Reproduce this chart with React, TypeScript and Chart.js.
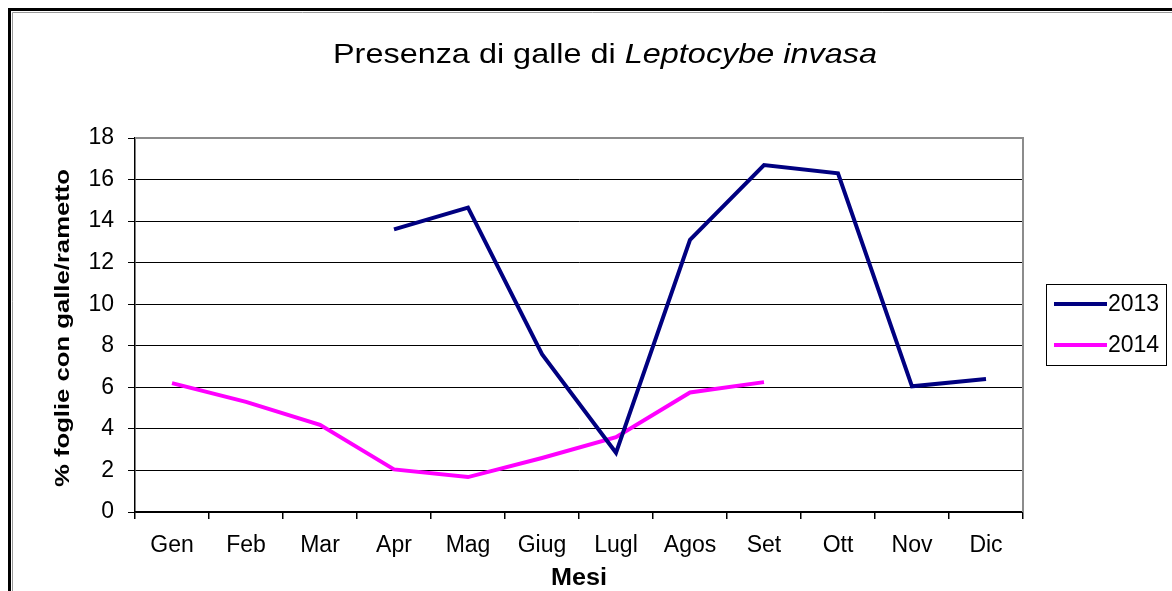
import { useEffect, useRef } from "react";
import { Chart, registerables } from "chart.js";
Chart.register(...registerables);

const months = ["Gen", "Feb", "Mar", "Apr", "Mag", "Giug", "Lugl", "Agos", "Set", "Ott", "Nov", "Dic"];
const values2013: (number | null)[] = [null, null, null, 13.6, 14.65, 7.6, 2.85, 13.1, 16.7, 16.3, 6.05, 6.4];
const values2014: (number | null)[] = [6.2, 5.3, 4.2, 2.05, 1.68, 2.6, 3.6, 5.75, 6.25, null, null, null];
const seriesNames = ["2013", "2014"];
const seriesColors = ["#000080", "#FF00FF"];
const yMin = 0;
const yMax = 18;
const yStep = 2;
const titleNormal = "Presenza di galle di ";
const titleItalic = "Leptocybe invasa";
const yTitle = "% foglie con galle/rametto";
const xTitle = "Mesi";

const FONT = "'Liberation Sans', Arial, sans-serif";

function fitText(ctx: CanvasRenderingContext2D, text: string, cx: number, cy: number, font: string, targetW: number, angle = 0) {
  ctx.save();
  ctx.font = font;
  const w = ctx.measureText(text).width;
  ctx.translate(cx, cy);
  ctx.rotate(angle);
  ctx.scale(targetW / w, 1);
  ctx.textAlign = "center";
  ctx.textBaseline = "middle";
  ctx.fillStyle = "#000";
  ctx.fillText(text, 0, 0);
  ctx.restore();
}

const decorPlugin = {
  id: "decor",
  beforeDatasetsDraw(chart: any) {
    const ctx: CanvasRenderingContext2D = chart.ctx;
    const a = chart.chartArea;
    ctx.save();
    ctx.strokeStyle = "#8c8c8c";
    ctx.lineWidth = 2;
    ctx.beginPath();
    ctx.moveTo(a.left, a.top);
    ctx.lineTo(a.right, a.top);
    ctx.lineTo(a.right, a.bottom);
    ctx.stroke();
    ctx.restore();
  },
  afterDraw(chart: any) {
    const ctx: CanvasRenderingContext2D = chart.ctx;
    const W = chart.width;
    const H = chart.height;
    const a = chart.chartArea;
    ctx.save();
    // outer frame
    ctx.strokeStyle = "#000";
    ctx.lineWidth = 3;
    ctx.beginPath();
    ctx.moveTo(9.5, H);
    ctx.lineTo(9.5, 9.5);
    ctx.lineTo(W, 9.5);
    ctx.stroke();
    ctx.strokeStyle = "#9a9a9a";
    ctx.lineWidth = 1;
    ctx.beginPath();
    ctx.moveTo(12.5, H);
    ctx.lineTo(12.5, 12.5);
    ctx.lineTo(W, 12.5);
    ctx.stroke();

    // title
    const tf = 28;
    ctx.font = `${tf}px ${FONT}`;
    const w1 = ctx.measureText(titleNormal).width;
    ctx.font = `italic ${tf}px ${FONT}`;
    const w2 = ctx.measureText(titleItalic).width;
    const target = 544;
    const sx = target / (w1 + w2);
    ctx.save();
    ctx.translate(605 - target / 2, 55);
    ctx.scale(sx, 1);
    ctx.fillStyle = "#000";
    ctx.textBaseline = "middle";
    ctx.textAlign = "left";
    ctx.font = `${tf}px ${FONT}`;
    ctx.fillText(titleNormal, 0, 0);
    ctx.font = `italic ${tf}px ${FONT}`;
    ctx.fillText(titleItalic, w1, 0);
    ctx.restore();

    // axis titles
    fitText(ctx, yTitle, 63, (a.top + a.bottom) / 2 + 3, `bold 21px ${FONT}`, 318, -Math.PI / 2);
    fitText(ctx, xTitle, (a.left + a.right) / 2, 579, `bold 23px ${FONT}`, 56);

    // legend
    ctx.strokeStyle = "#000";
    ctx.lineWidth = 1;
    ctx.strokeRect(1046.5, 284.5, 120, 81);
    chart.data.datasets.forEach((ds: any, i: number) => {
      const ly = 304 + i * 41;
      ctx.strokeStyle = ds.borderColor;
      ctx.lineWidth = 4;
      ctx.beginPath();
      ctx.moveTo(1054, ly);
      ctx.lineTo(1107, ly);
      ctx.stroke();
      ctx.fillStyle = "#000";
      ctx.font = `23px ${FONT}`;
      ctx.textAlign = "left";
      ctx.textBaseline = "middle";
      ctx.fillText(ds.label, 1108, ly + 1);
    });
    ctx.restore();
  },
};

export default function App() {
  const ref = useRef<HTMLCanvasElement | null>(null);
  useEffect(() => {
    document.body.style.margin = "0";
    const canvas = ref.current!;
    const chart = new Chart(canvas, {
      type: "line",
      data: {
        labels: months,
        datasets: [
          { label: seriesNames[0], data: values2013, borderColor: seriesColors[0], backgroundColor: seriesColors[0], borderWidth: 4, pointRadius: 0, spanGaps: false, tension: 0 },
          { label: seriesNames[1], data: values2014, borderColor: seriesColors[1], backgroundColor: seriesColors[1], borderWidth: 4, pointRadius: 0, spanGaps: false, tension: 0 },
        ],
      },
      options: {
        responsive: false,
        animation: false,
        events: [],
        layout: { padding: { left: 0, top: 138, right: 149, bottom: 0 } },
        plugins: { legend: { display: false }, title: { display: false }, tooltip: { enabled: false } },
        scales: {
          x: {
            type: "category",
            offset: true,
            grid: { offset: true, drawOnChartArea: false, drawTicks: true, tickLength: 7, color: "#000", tickColor: "#000", lineWidth: 1.5 },
            border: { color: "#000", width: 1.5 },
            ticks: { color: "#000", font: { family: FONT, size: 23 }, padding: 13, maxRotation: 0, autoSkip: false },
            afterFit: (s: any) => { s.height = 79; },
          },
          y: {
            min: yMin,
            max: yMax,
            grid: {
              color: (c: any) => (c.tick && c.tick.value === yMax ? "rgba(0,0,0,0)" : "#000"),
              tickColor: "#000",
              lineWidth: 1,
              tickLength: 7,
            },
            border: { color: "#000", width: 1.5 },
            ticks: { stepSize: yStep, color: "#000", font: { family: FONT, size: 23 }, padding: 14 },
            afterFit: (s: any) => { s.width = 135; },
          },
        },
      },
      plugins: [decorPlugin],
    } as any);
    return () => chart.destroy();
  }, []);
  return (
    <div style={{ position: "absolute", left: 0, top: 0, width: 1172, height: 591, background: "#fff" }}>
      <canvas ref={ref} width={1172} height={591} style={{ width: 1172, height: 591, display: "block" }} />
    </div>
  );
}
